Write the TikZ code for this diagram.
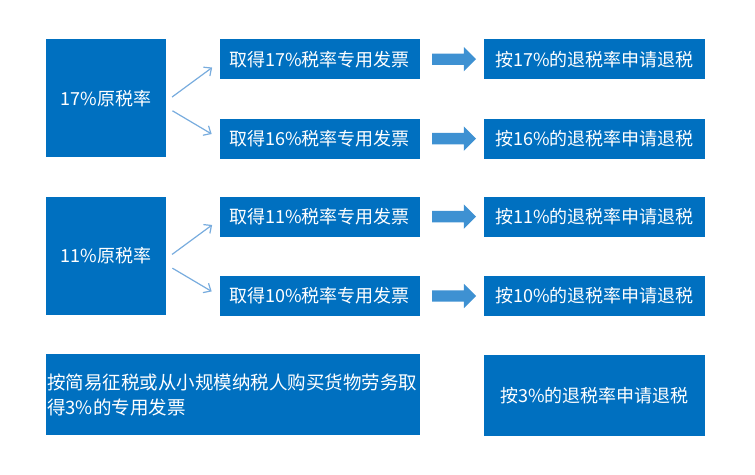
\documentclass[tikz,border=0pt]{standalone}
\usepackage{fontspec}
\setmainfont{Noto Sans CJK SC}
\usepackage{tikz}
\usetikzlibrary{positioning}
\usetikzlibrary{shapes.arrows}
\usetikzlibrary{arrows.meta}
\definecolor{boxblue}{RGB}{0,112,192}
\definecolor{arrowblue}{RGB}{62,145,210}
\definecolor{lineblue}{RGB}{120,172,222}

\begin{document}
\begin{tikzpicture}[x=1pt, y=-1pt,
    every node/.style = {fill=boxblue, text=white, inner sep=0pt, font=\fontsize{18}{24}\selectfont},
    srcbox/.style = {minimum width=120pt, minimum height=118pt},
    invbox/.style = {minimum width=200pt, minimum height=40pt},
    refbox/.style = {minimum width=221pt, minimum height=40pt},
    blockarrow/.style = {single arrow, fill=arrowblue, minimum height=44pt, inner sep=5.5pt,
      single arrow head extend=6.5pt, single arrow head indent=0pt},
    thinarrow/.style = {draw=lineblue, line width=1.2pt, -{Straight Barb[length=6pt,width=11pt]},
      shorten <=7pt, shorten >=9pt}
    ]
    \useasboundingbox (0,0) rectangle (755,474);
    % group 17%
    \node[srcbox, anchor=north west] (s17) at (46,39) {17\%原税率};
    \node[invbox] (i17) [right=53pt of s17.north east, anchor=north west] {取得17\%税率专用发票};
    \node[invbox] (i16) [below=39pt of i17] {取得16\%税率专用发票};
    \node[blockarrow] (a17) [right=12pt of i17] {};
    \node[blockarrow] (a16) [right=12pt of i16] {};
    \node[refbox] (r17) [right=64pt of i17] {按17\%的退税率申请退税};
    \node[refbox] (r16) [right=64pt of i16] {按16\%的退税率申请退税};
    \draw[thinarrow] ([yshift=-3pt]s17.east) -- ([yshift=-3pt]i17.west);
    \draw[thinarrow] ([yshift=-9pt]s17.east) -- (i16.west);
    % group 11%
    \node[srcbox] (s11) [below=39pt of s17] {11\%原税率};
    \node[invbox] (i11) [right=53pt of s11.north east, anchor=north west] {取得11\%税率专用发票};
    \node[invbox] (i10) [below=39pt of i11] {取得10\%税率专用发票};
    \node[blockarrow] (a11) [right=12pt of i11] {};
    \node[blockarrow] (a10) [right=12pt of i10] {};
    \node[refbox] (r11) [right=64pt of i11] {按11\%的退税率申请退税};
    \node[refbox] (r10) [right=64pt of i10] {按10\%的退税率申请退税};
    \draw[thinarrow] ([yshift=-3pt]s11.east) -- ([yshift=-3pt]i11.west);
    \draw[thinarrow] ([yshift=-9pt]s11.east) -- (i10.west);
    % 3%
    \node[minimum width=374pt, minimum height=81pt, text width=372pt, align=left,
      font=\fontsize{18.5}{25}\selectfont] (s3) [below=39pt of s11.south west, anchor=north west]
      {按简易征税或从小规模纳税人购买货物劳务取\\得3\%的专用发票};
    \node[minimum width=221pt, minimum height=81pt] (r3) [below=39pt of r10] {按3\%的退税率申请退税};
    \end{tikzpicture}
\end{document}
